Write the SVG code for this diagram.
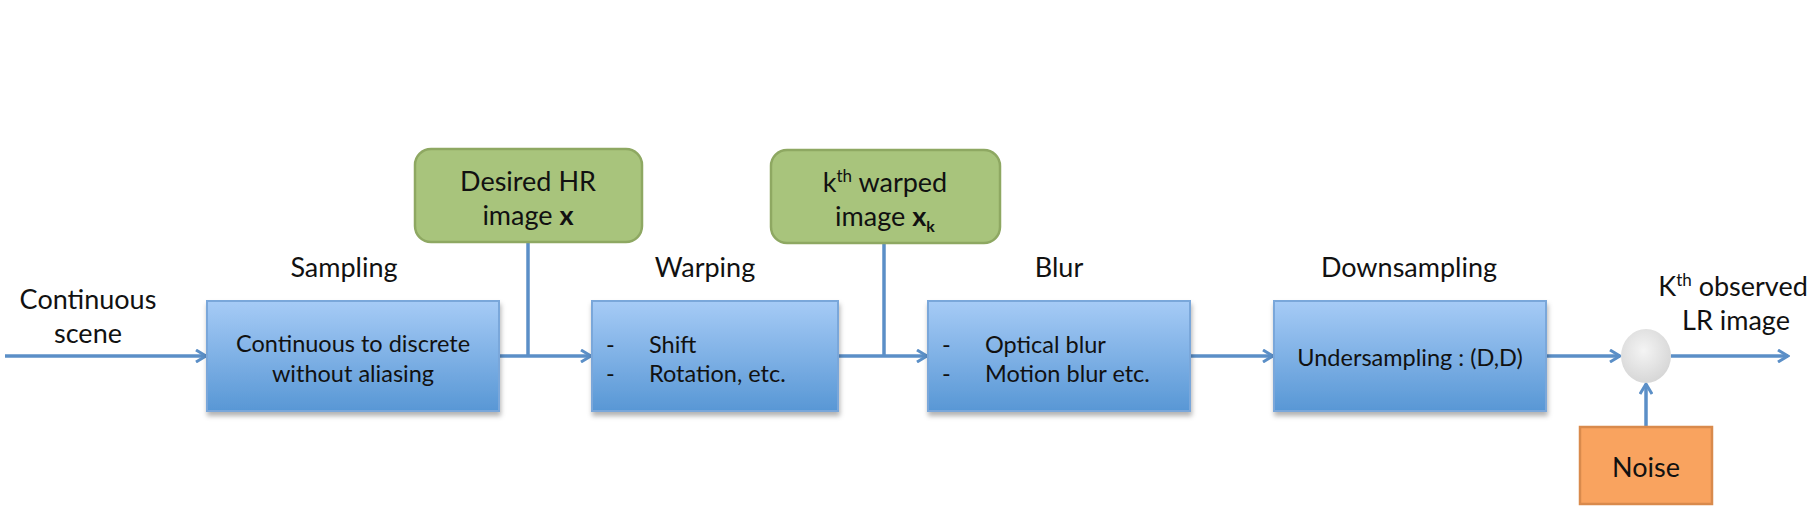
<svg xmlns="http://www.w3.org/2000/svg" width="1812" height="507" viewBox="0 0 1812 507">
<style>
text{font-family:Lato,"Open Sans","Liberation Sans",sans-serif;fill:#111;}
.lbl{font-size:27px;text-anchor:middle;}
.bt{font-size:23.5px;}
.c{text-anchor:middle;}
.blue{fill:url(#gBlue);stroke:#7aa7da;stroke-width:2;filter:url(#sh);}
.green{fill:#a8c47c;stroke:#8ea862;stroke-width:2.5;}
.orange{fill:#f9a35f;stroke:#d98a4c;stroke-width:2.5;}
.con{stroke:#5b8fc7;stroke-width:3.5;fill:none;}
.arr{marker-end:url(#ah);}
</style>
<defs>
<linearGradient id="gBlue" x1="0" y1="0" x2="0" y2="1">
<stop offset="0" stop-color="#a6cbf6"/>
<stop offset="1" stop-color="#5897d5"/>
</linearGradient>
<radialGradient id="gCirc" cx="0.45" cy="0.4" r="0.7">
<stop offset="0" stop-color="#f4f4f4"/>
<stop offset="1" stop-color="#d2d2d2"/>
</radialGradient>
<filter id="sh" x="-5%" y="-5%" width="115%" height="125%">
<feDropShadow dx="1" dy="4" stdDeviation="2.5" flood-color="#000" flood-opacity="0.3"/>
</filter>
<marker id="ah" viewBox="0 0 14 14" refX="12" refY="7" markerWidth="14" markerHeight="14" markerUnits="userSpaceOnUse" orient="auto">
<path d="M2,1 L12,7 L2,13" fill="none" stroke="#5b8fc7" stroke-width="3"/>
</marker>
</defs>

<g id="connectors">
<line class="con arr" x1="5" y1="356" x2="206" y2="356"/>
<line class="con arr" x1="499" y1="356" x2="591" y2="356"/>
<line class="con" x1="528" y1="242" x2="528" y2="356"/>
<line class="con arr" x1="838" y1="356" x2="927" y2="356"/>
<line class="con" x1="884" y1="243" x2="884" y2="356"/>
<line class="con arr" x1="1190" y1="356" x2="1273" y2="356"/>
<line class="con arr" x1="1546" y1="356" x2="1620" y2="356"/>
<line class="con arr" x1="1671" y1="356" x2="1788" y2="356"/>
<line class="con arr" x1="1646" y1="427" x2="1646" y2="384"/>
</g>

<g id="input-label">
<text class="lbl" x="88" y="309">Continuous</text>
<text class="lbl" x="88" y="343">scene</text>
</g>

<g id="sampling">
<text class="lbl" x="344" y="277">Sampling</text>
<rect class="blue" x="207" y="301" width="292" height="110"/>
<text class="bt c" x="353" y="352">Continuous to discrete</text>
<text class="bt c" x="353" y="382">without aliasing</text>
</g>

<g id="desired-hr">
<rect class="green" x="415" y="149" width="227" height="93" rx="16"/>
<text class="lbl" x="528" y="191">Desired HR</text>
<text class="lbl" x="528" y="225">image <tspan font-weight="bold">x</tspan></text>
</g>

<g id="warping">
<text class="lbl" x="705" y="277">Warping</text>
<rect class="blue" x="592" y="301" width="246" height="110"/>
<text class="bt" x="606" y="353">-</text>
<text class="bt" x="649" y="353">Shift</text>
<text class="bt" x="606" y="382">-</text>
<text class="bt" x="649" y="382">Rotation, etc.</text>
</g>

<g id="kth-warped">
<rect class="green" x="771" y="150" width="229" height="93" rx="16"/>
<text class="lbl" x="885" y="192">k<tspan font-size="17" dy="-10">th</tspan><tspan dy="10"> warped</tspan></text>
<text class="lbl" x="885" y="226">image <tspan font-weight="bold">x</tspan><tspan font-weight="bold" font-size="16" dy="6">k</tspan></text>
</g>

<g id="blur">
<text class="lbl" x="1059" y="277">Blur</text>
<rect class="blue" x="928" y="301" width="262" height="110"/>
<text class="bt" x="942" y="353">-</text>
<text class="bt" x="985" y="353">Optical blur</text>
<text class="bt" x="942" y="382">-</text>
<text class="bt" x="985" y="382">Motion blur etc.</text>
</g>

<g id="downsampling">
<text class="lbl" x="1409" y="277">Downsampling</text>
<rect class="blue" x="1274" y="301" width="272" height="110"/>
<text class="bt c" x="1410" y="366">Undersampling : (D,D)</text>
</g>

<g id="sum">
<ellipse cx="1646" cy="356" rx="25" ry="27" fill="url(#gCirc)"/>
</g>

<g id="output-label">
<text class="lbl" x="1733" y="296">K<tspan font-size="17" dy="-10">th</tspan><tspan dy="10"> observed</tspan></text>
<text class="lbl" x="1736" y="330">LR image</text>
</g>

<g id="noise">
<rect class="orange" x="1580" y="427" width="132" height="77"/>
<text class="lbl" x="1646" y="477">Noise</text>
</g>
</svg>
